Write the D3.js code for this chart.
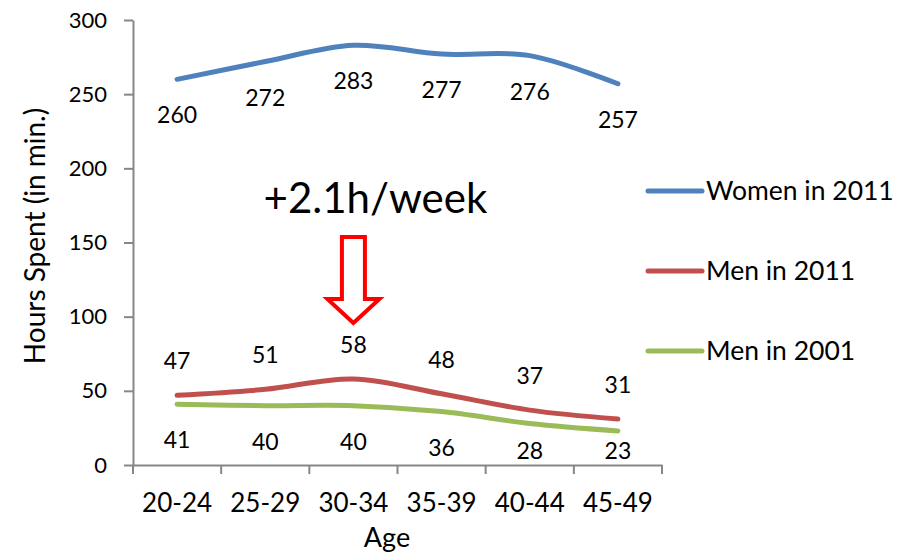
<!DOCTYPE html>
<html>
<head>
<meta charset="utf-8">
<script src="https://cdn.jsdelivr.net/npm/d3@7"></script>
<style>
  html, body { margin: 0; padding: 0; background: #fff; }
  svg { display: block; font-family: Lato, "Open Sans", sans-serif; }
</style>
</head>
<body>
<svg id="chart" width="905" height="555"></svg>
<script>
// Age groups on the x axis
const ageGroups = ["20-24", "25-29", "30-34", "35-39", "40-44", "45-49"];

// Minutes per day spent on housework
const women2011 = [260, 272, 283, 277, 276, 257];
const men2011   = [47, 51, 58, 48, 37, 31];
const men2001   = [41, 40, 40, 36, 28, 23];

const yTicks = [0, 50, 100, 150, 200, 250, 300];

const seriesNames = ["Women in 2011", "Men in 2011", "Men in 2001"];
const seriesColors = ["#4F81BD", "#C0504D", "#9BBB59"];

const series = [
  { name: seriesNames[0], values: women2011, color: seriesColors[0], labelPos: "below" },
  { name: seriesNames[1], values: men2011,   color: seriesColors[1], labelPos: "above" },
  { name: seriesNames[2], values: men2001,   color: seriesColors[2], labelPos: "below" }
];

const svg = d3.select("#chart");
const plot = { left: 133, right: 662, top: 20, bottom: 465 };

const x = d3.scaleBand().domain(ageGroups).range([plot.left, plot.right]);
const y = d3.scaleLinear().domain([0, 300]).range([plot.bottom, plot.top]);
const cx = d => x(d) + x.bandwidth() / 2;

const axisColor = "#878787";

// Y axis
const yAxis = svg.append("g")
  .attr("transform", `translate(${plot.left},0)`)
  .call(d3.axisLeft(y).tickValues(yTicks).tickSize(9).tickPadding(17).tickSizeOuter(0));
yAxis.select(".domain").attr("stroke", axisColor).attr("stroke-width", 2);
yAxis.selectAll(".tick line").attr("stroke", axisColor).attr("stroke-width", 2);
yAxis.selectAll(".tick text").attr("font-size", 22).attr("fill", "#000")
  .attr("font-family", "Lato, sans-serif");

// X axis: labels at band centres, tick marks on band boundaries
const xAxis = svg.append("g")
  .attr("transform", `translate(0,${plot.bottom})`)
  .call(d3.axisBottom(x).tickSize(0).tickPadding(0).tickSizeOuter(0));
xAxis.select(".domain").attr("stroke", axisColor).attr("stroke-width", 2);
xAxis.selectAll(".tick text").attr("font-size", 26).attr("fill", "#000")
  .attr("font-family", "Lato, sans-serif")
  .attr("dy", null).attr("y", 47);
const boundaries = ageGroups.map(d => x(d)).concat([x(ageGroups[ageGroups.length - 1]) + x.bandwidth()]);
xAxis.selectAll("line.boundary").data(boundaries).enter().append("line")
  .attr("class", "boundary")
  .attr("x1", d => d).attr("x2", d => d)
  .attr("y1", 0).attr("y2", 9)
  .attr("stroke", axisColor).attr("stroke-width", 2);

// Axis titles
svg.append("text")
  .attr("x", 387).attr("y", 547)
  .attr("text-anchor", "middle").attr("font-size", 27).text("Age");
svg.append("text")
  .attr("transform", "translate(45,236) rotate(-90)")
  .attr("text-anchor", "middle").attr("font-size", 28).text("Hours Spent (in min.)");

// Smoothed lines
const line = d3.line()
  .x((v, i) => cx(ageGroups[i]))
  .y(v => y(v))
  .curve(d3.curveCatmullRom.alpha(0));

svg.selectAll("path.series").data(series).enter().append("path")
  .attr("class", "series")
  .attr("d", s => line(s.values))
  .attr("fill", "none")
  .attr("stroke", s => s.color)
  .attr("stroke-width", 5)
  .attr("stroke-linecap", "round")
  .attr("stroke-linejoin", "round");

// Data labels, kept inside the plot area
series.forEach(s => {
  svg.append("g").selectAll("text").data(s.values).enter().append("text")
    .attr("x", (v, i) => cx(ageGroups[i]))
    .attr("y", v => s.labelPos === "above" ? y(v) - 34 : Math.min(y(v) + 36, plot.bottom - 14))
    .attr("dy", "0.35em")
    .attr("text-anchor", "middle")
    .attr("font-size", 23)
    .text(v => v);
});

// Legend
const legend = svg.append("g").attr("transform", "translate(648,191)");
const items = legend.selectAll("g").data(series).enter().append("g")
  .attr("transform", (d, i) => `translate(0,${i * 80})`);
items.append("line")
  .attr("x1", 0).attr("x2", 54).attr("y1", 0).attr("y2", 0)
  .attr("stroke", d => d.color).attr("stroke-width", 5).attr("stroke-linecap", "round");
items.append("text")
  .attr("x", 58).attr("y", 0).attr("dy", "0.35em")
  .attr("font-size", 26.5).text(d => d.name);

// Annotation: change for the 30-34 group
const ax = cx("30-34");
svg.append("text")
  .attr("x", ax + 22).attr("y", 213)
  .attr("text-anchor", "middle").attr("font-size", 42)
  .text("+2.1h/week");

const arrowTop = 237, shaftBottom = 299, tip = 323, shaftHalf = 11.5, headHalf = 26;
const arrowPts = [
  [ax - shaftHalf, arrowTop], [ax + shaftHalf, arrowTop], [ax + shaftHalf, shaftBottom],
  [ax + headHalf, shaftBottom], [ax, tip], [ax - headHalf, shaftBottom], [ax - shaftHalf, shaftBottom]
];
svg.append("path")
  .attr("d", d3.line()(arrowPts) + "Z")
  .attr("fill", "#fff")
  .attr("stroke", "#FF0000")
  .attr("stroke-width", 4)
  .attr("stroke-linejoin", "miter");
</script>
</body>
</html>
